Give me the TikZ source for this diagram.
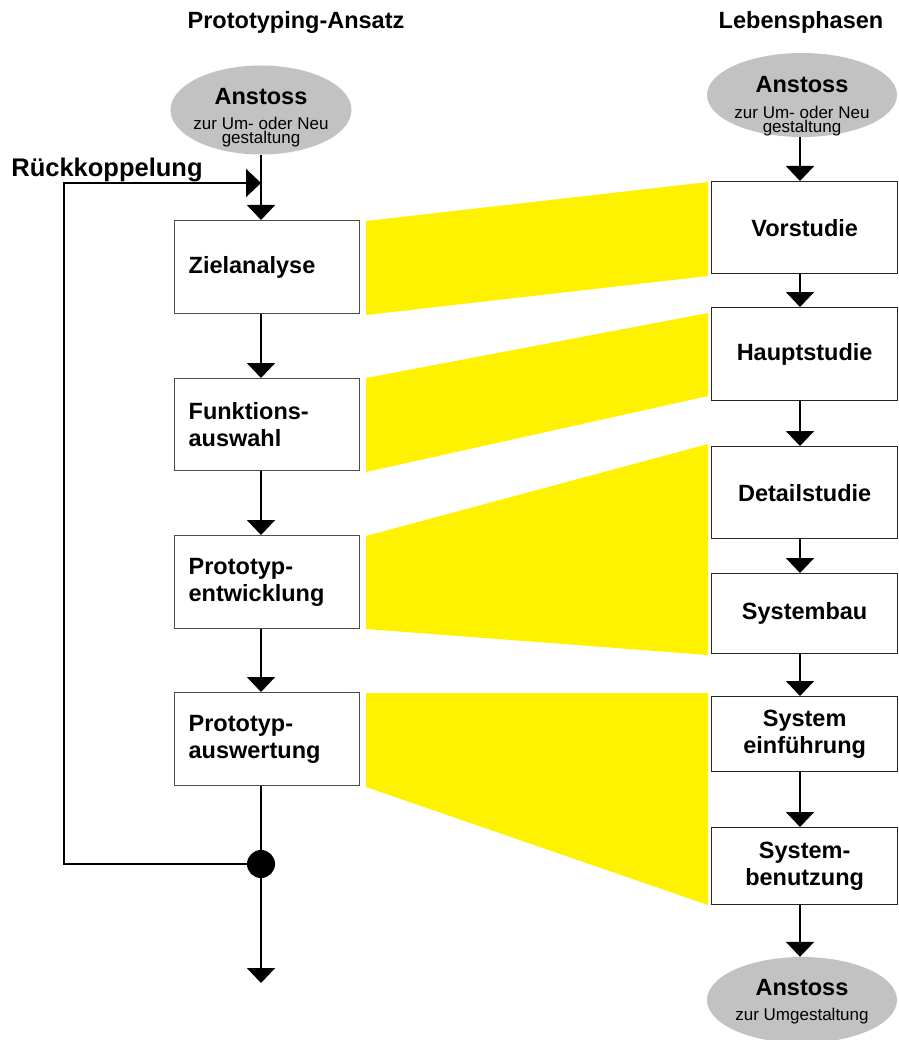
\documentclass[tikz,border=0pt]{standalone}
\usepackage{fontspec}
\setmainfont{Liberation Sans}
\usetikzlibrary{arrows.meta,shapes.geometric}

\tikzset{
  lbl/.style={font=\fontsize{23.5}{27}\selectfont\bfseries},
  small/.style={font=\fontsize{17}{11}\selectfont, align=center, inner sep=0pt},
  startell/.style={ellipse, fill=black!24, draw=none, inner sep=0pt},
  lbox/.style={rectangle, draw=black!70, line width=1.3pt, fill=white,
    anchor=north west, minimum width=185, align=left, text width=157,
    inner xsep=14, lbl},
  rbox/.style={rectangle, draw=black!85, line width=1.3pt, fill=white,
    anchor=north west, minimum width=186, align=center, text width=170,
    inner xsep=8, lbl},
  band/.style={fill=yellow, draw=none},
  arr/.style={line width=2pt, -{Triangle[width=28pt,length=15pt]}},
  ln/.style={line width=2pt},
}

\begin{document}
\begin{tikzpicture}[x=1pt,y=-1pt]
  \useasboundingbox (0,0) rectangle (898,1040);

  % mapping bands between the two columns
  \fill[band] (366,221) -- (708,182) -- (708,276) -- (366,315) -- cycle;
  \fill[band] (366,378) -- (708,313) -- (708,396) -- (366,472) -- cycle;
  \fill[band] (366,536) -- (708,444) -- (708,655) -- (366,629) -- cycle;
  \fill[band] (366,693) -- (708,693) -- (708,905) -- (366,787) -- cycle;

  % headings
  \node[lbl] (hl) at (296,22) {Prototyping-Ansatz};
  \node[lbl] (hr) at (801,22) {Lebensphasen};

  % left column: prototyping cycle
  \node[startell, minimum width=181, minimum height=89] (s1) at (261,110) {};
  \node[lbl, inner sep=0pt] (s1a) at (261,97) {Anstoss};
  \node[small] (s1b) at (261,132) {zur Um- oder Neu\\gestaltung};

  \node[lbox, minimum height=93] (zl) at (174,220) {Zielanalyse};
  \node[lbox, minimum height=92] (fa) at (174,378) {Funktions-\\auswahl};
  \node[lbox, minimum height=93] (pe) at (174,535) {Prototyp-\\entwicklung};
  \node[lbox, minimum height=93] (pa) at (174,692) {Prototyp-\\auswertung};

  \node[circle, fill=black, minimum size=28, inner sep=0pt] (dot) at (261,864) {};
  \coordinate (out) at (261,983);
  \coordinate (fb) at (261,183);
  \coordinate (fbcorner) at (64,864);

  \node[font=\fontsize{25.5}{29}\selectfont\bfseries] (rk) at (107,170) {Rückkoppelung};

  \draw[arr] (s1.south) -- (zl.north -| s1.south);
  \draw[arr] (zl.south -| s1.south) -- (fa.north -| s1.south);
  \draw[arr] (fa.south -| s1.south) -- (pe.north -| s1.south);
  \draw[arr] (pe.south -| s1.south) -- (pa.north -| s1.south);
  \draw[ln] (pa.south -| s1.south) -- (dot.north);
  \draw[arr] (dot.south) -- (out);
  \draw[arr] (dot.west) -- (fbcorner) |- (fb);

  % right column: life phases
  \node[startell, minimum width=190, minimum height=84] (s2) at (802,95) {};
  \node[lbl, inner sep=0pt] (s2a) at (802,85) {Anstoss};
  \node[small] (s2b) at (802,121) {zur Um- oder Neu\\gestaltung};

  \coordinate (rc) at (800,0);
  \node[rbox, minimum height=92] (vs) at (711,181) {Vorstudie};
  \node[rbox, minimum height=93] (hs) at (711,307) {Hauptstudie};
  \node[rbox, minimum height=92] (ds) at (711,446) {Detailstudie};
  \node[rbox, minimum height=80] (sb) at (711,573) {Systembau};
  \node[rbox, minimum height=75] (se) at (711,696) {System\\einführung};
  \node[rbox, minimum height=77] (su) at (711,827) {System-\\benutzung};

  \node[startell, minimum width=190, minimum height=86] (s3) at (802,1000) {};
  \node[lbl, inner sep=0pt] (s3a) at (802,988) {Anstoss};
  \node[small] (s3b) at (802,1016) {zur Umgestaltung};

  \draw[arr] (s2.south -| rc) -- (vs.north -| rc);
  \draw[arr] (vs.south -| rc) -- (hs.north -| rc);
  \draw[arr] (hs.south -| rc) -- (ds.north -| rc);
  \draw[arr] (ds.south -| rc) -- (sb.north -| rc);
  \draw[arr] (sb.south -| rc) -- (se.north -| rc);
  \draw[arr] (se.south -| rc) -- (su.north -| rc);
  \draw[arr] (su.south -| rc) -- (s3.north -| rc);
\end{tikzpicture}
\end{document}
